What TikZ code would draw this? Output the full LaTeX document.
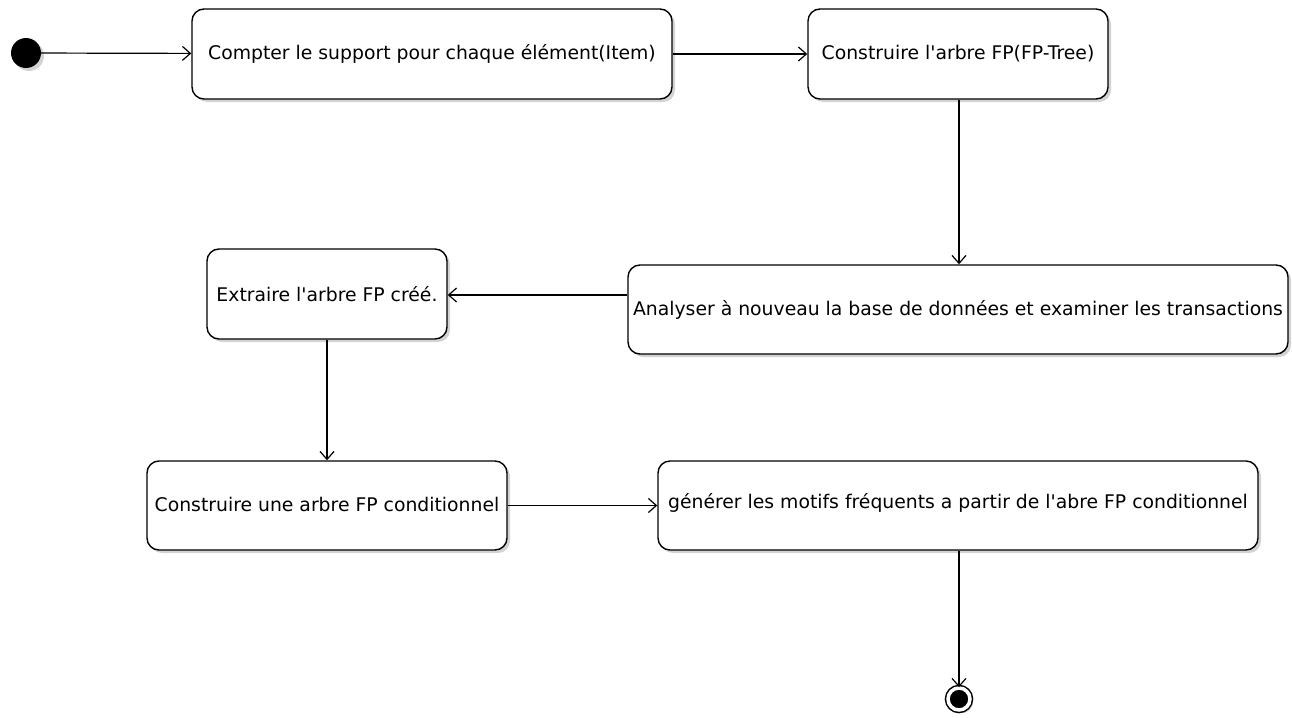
\documentclass[tikz,border=0pt]{standalone}
\usepackage{fontspec}
\setmainfont{DejaVu Sans}
\usetikzlibrary{arrows.meta,shadows}
\begin{document}
\begin{tikzpicture}[x=1pt,y=-1pt,
  shad/.style={drop shadow={shadow xshift=3pt,shadow yshift=-3pt,opacity=0.35,fill=gray}},
  act/.style={draw,line width=1.4pt,rounded corners=12pt,fill=white,shad,inner sep=0pt,
    font=\fontsize{18.8}{22}\selectfont},
  flow/.style={line width=1.2pt,-{Straight Barb[length=8pt,width=14pt,line width=1.2pt]}}]
\useasboundingbox (0,0) rectangle (1292,717);
\node[circle,fill=black,minimum size=30pt,inner sep=0pt,shad] (start) at (26,53) {};
\node[act,minimum width=480pt,minimum height=90pt] (b1) at (432,54) {Compter le support pour chaque élément(Item)};
\node[act,minimum width=300pt,minimum height=90pt] (b2) at (958,54) {Construire l\textquotesingle arbre FP(FP-Tree)};
\node[act,minimum width=660pt,minimum height=89pt] (b3) at (958,309.5) {Analyser à nouveau la base de données et examiner les transactions};
\node[act,minimum width=240pt,minimum height=90pt] (b4) at (327,294) {Extraire l\textquotesingle arbre FP créé.};
\node[act,minimum width=360pt,minimum height=89pt] (b5) at (327,505.5) {\raisebox{3pt}{Construire une arbre FP conditionnel}};
\node[act,minimum width=600pt,minimum height=89pt] (b6) at (958,505.5) {\raisebox{10pt}{générer les motifs fréquents a partir de l\textquotesingle abre FP conditionnel}};
\node[circle,fill=black,draw=black,double=white,double distance=3.5pt,line width=1.5pt,
  minimum size=22pt,inner sep=0pt,shad] (end) at (959,699) {};
\draw[flow] (start) -- (b1);
\draw[flow] (b1) -- (b2);
\draw[flow] (b2.south -| 959,0) -- (b3.north -| 959,0);
\draw[flow] (b3.west |- 0,295) -- (b4.east |- 0,295);
\draw[flow] (b4.south -| 327,0) -- (b5.north -| 327,0);
\draw[flow] (b5.east) -- (b6.west |- b5.east);
\draw[flow] (b6.south -| 959,0) -- (end);
\end{tikzpicture}
\end{document}
